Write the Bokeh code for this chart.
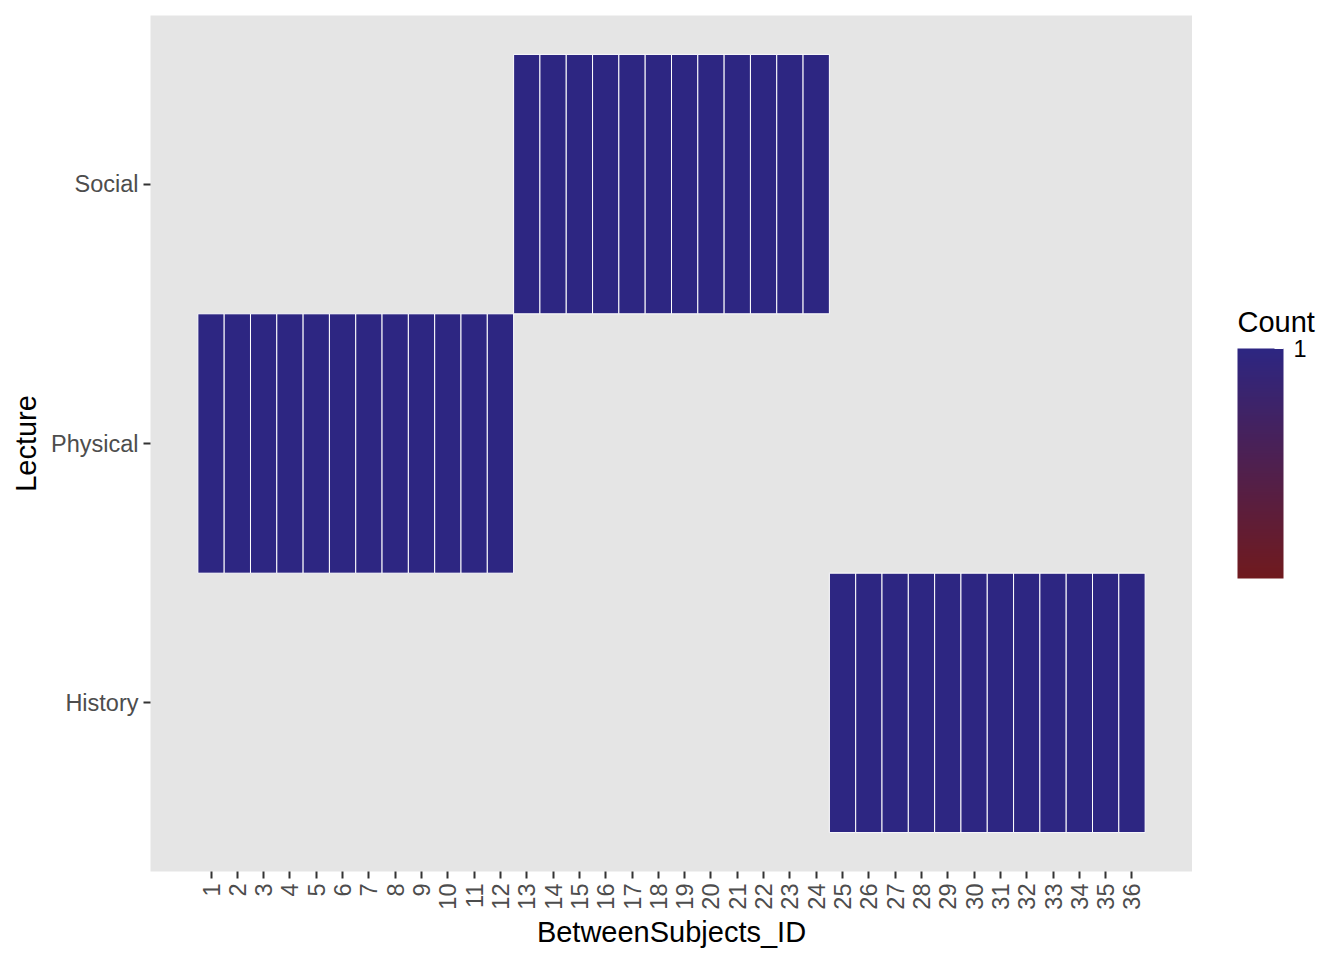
import numpy as np
from bokeh.plotting import figure
from bokeh.layouts import row
from bokeh.models import ColumnDataSource, LinearColorMapper, ColorBar, FixedTicker, Label
from bokeh.embed import file_html
from bokeh.resources import INLINE

# ---- data ----
subject_ids = list(range(1, 37))
lectures = ["Physical"] * 12 + ["Social"] * 12 + ["History"] * 12
counts = [1] * 36
lecture_levels = ["History", "Physical", "Social"]
legend_title = "Count"

FONT = "Liberation Sans"
low_col = (112, 26, 30)
high_col = (45, 38, 130)
palette = []
for t in np.linspace(0, 1, 256):
    r, g, b = [int(round(a + (c - a) * t)) for a, c in zip(low_col, high_col)]
    palette.append("#%02x%02x%02x" % (r, g, b))

mapper = LinearColorMapper(palette=palette, low=0.0, high=1.0)

src = ColumnDataSource(dict(
    x=subject_ids,
    y=[lecture_levels.index(l) + 1 for l in lectures],
    count=counts,
))

H = 952
FRAME_BOTTOM = 871
p = figure(width=1192, height=H, output_backend="svg", toolbar_location=None,
           x_range=(0.5 - 1.8, 36.5 + 1.8), y_range=(0.35, 3.65),
           min_border_left=150, min_border_right=0, min_border_top=15, min_border_bottom=81)
p.background_fill_color = "#E5E5E5"
p.outline_line_color = None
p.grid.visible = False

p.rect(x="x", y="y", width=1, height=1, source=src,
       fill_color={"field": "count", "transform": mapper},
       line_color="white", line_width=1)

# axes
p.xaxis.ticker = FixedTicker(ticks=subject_ids)
p.yaxis.ticker = FixedTicker(ticks=[1, 2, 3])
p.yaxis.major_label_overrides = {i + 1: l for i, l in enumerate(lecture_levels)}
p.xaxis.major_label_orientation = np.pi / 2
for ax in (p.xaxis, p.yaxis):
    ax.axis_line_color = None
    ax.major_tick_in = 0
    ax.major_tick_out = 7
    ax.major_tick_line_width = 2
    ax.major_tick_line_color = "#333333"
    ax.minor_tick_line_color = None
    ax.major_label_text_font = FONT
    ax.major_label_text_font_size = "23.5px"
    ax.major_label_text_color = "#4D4D4D"
    ax.major_label_standoff = 5
    ax.axis_label_text_font = FONT
    ax.axis_label_text_font_size = "29px"
    ax.axis_label_text_font_style = "normal"
    ax.axis_label_text_color = "black"
p.xaxis.axis_label = "BetweenSubjects_ID"
p.yaxis.axis_label = "Lecture"
p.xaxis.axis_label_standoff = 3
p.yaxis.axis_label_standoff = 6

# ---- legend panel ----
W2 = 136
q = figure(width=W2, height=H, output_backend="svg", toolbar_location=None,
           x_range=(0, 1), y_range=(0, 1), x_axis_location=None, y_axis_location=None,
           min_border=0, min_border_left=0, min_border_right=0, min_border_top=0, min_border_bottom=0)
q.outline_line_color = None
q.grid.visible = False
q.background_fill_color = "white"

cb = ColorBar(color_mapper=mapper, ticker=FixedTicker(ticks=[1]),
              width=46, height=230, location=(45, FRAME_BOTTOM - 578), padding=0,
              major_label_text_font=FONT, major_label_text_font_size="23.5px",
              major_label_text_color="black", major_tick_line_color="white",
              major_tick_line_width=1, major_tick_in=9, major_tick_out=0,
              bar_line_color=None, border_line_color=None, background_fill_color=None,
              label_standoff=10)
q.add_layout(cb, "center")

q.add_layout(Label(x=45, y=FRAME_BOTTOM - 321, x_units="screen", y_units="screen", text=legend_title,
                   text_font=FONT, text_font_size="29px", text_color="black",
                   text_baseline="alphabetic", text_align="left"))

layout = row(p, q, spacing=0)
open("out.html", "w").write(file_html(layout, INLINE))
